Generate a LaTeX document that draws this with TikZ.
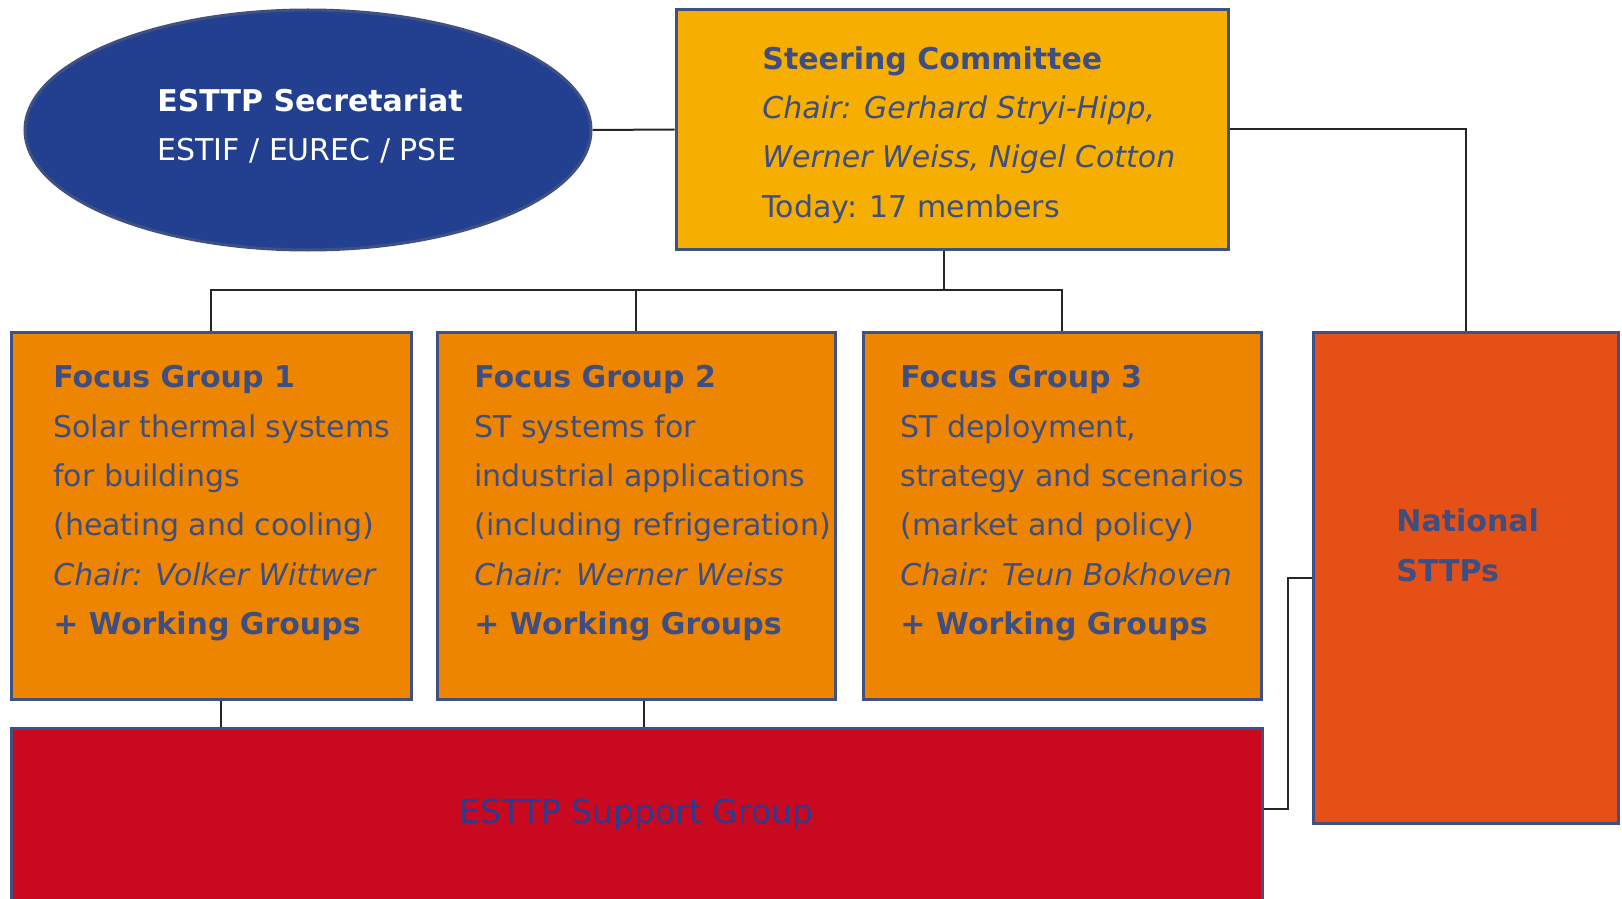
\documentclass[tikz,border=0pt]{standalone}
\usepackage{fontspec}
\setmainfont{DejaVu Sans}
\usepackage{tikz}
\usetikzlibrary{shapes.geometric, positioning}
\definecolor{secblue}{HTML}{22408F}
\definecolor{scamber}{HTML}{F6AE00}
\definecolor{fgorange}{HTML}{EE8500}
\definecolor{natorange}{HTML}{E55016}
\definecolor{sgred}{HTML}{C9091F}
\definecolor{edgeblue}{HTML}{3F5183}
\definecolor{txtblue}{HTML}{3E4E80}
\definecolor{sgtext}{HTML}{2C3B90}
\tikzset{
  box/.style={draw=edgeblue, line width=1.5pt, inner sep=0pt},
  txt/.style={text=txtblue, align=left, inner sep=0pt, anchor=north west, font=\fontsize{15}{24.7}\selectfont},
  link/.style={draw=black!85, line width=1pt},
}

\begin{document}
\begin{tikzpicture}[x=0.5pt, y=-0.5pt]
		\useasboundingbox (0,0) rectangle (1622,899);
		\node[ellipse, box, fill=secblue, minimum width=283pt, minimum height=120pt] (sec) at (308,130) {};
		\node[box, fill=scamber, minimum width=276pt, minimum height=119.5pt] (sc) at (952,129.5) {};
		\node[box, fill=fgorange, minimum width=200pt, minimum height=183.5pt] (fg1) at (211,515.5) {};
		\node[box, fill=fgorange, minimum width=199pt, minimum height=183.5pt] (fg2) at (636,515.5) {};
		\node[box, fill=fgorange, minimum width=199pt, minimum height=183.5pt] (fg3) at (1062,515.5) {};
		\node[box, fill=natorange, minimum width=152.5pt, minimum height=245.5pt] (nat) at (1465.5,577.5) {};
		\node[box, fill=sgred, minimum width=625.5pt, minimum height=87pt, text=sgtext, font=\fontsize{16.5}{20}\selectfont] (sg) at (636.5,815) {ESTTP Support Group};

		\node[txt, text=white] (sectext) at (157,88) {\textbf{ESTTP Secretariat}\\ESTIF / EUREC / PSE};
		\node[txt] (sctext) at (762,46) {\textbf{Steering Committee}\\\textit{Chair: Gerhard Stryi-Hipp,}\\\textit{Werner Weiss, Nigel Cotton}\\Today: 17 members};
		\node[txt] (fg1text) at (53,365) {\textbf{Focus Group 1}\\Solar thermal systems\\for buildings\\(heating and cooling)\\\textit{Chair: Volker Wittwer}\\\textbf{+ Working Groups}};
		\node[txt] (fg2text) at (474,365) {\textbf{Focus Group 2}\\ST systems for\\industrial applications\\(including refrigeration)\\\textit{Chair: Werner Weiss}\\\textbf{+ Working Groups}};
		\node[txt] (fg3text) at (900,365) {\textbf{Focus Group 3}\\ST deployment,\\strategy and scenarios\\(market and policy)\\\textit{Chair: Teun Bokhoven}\\\textbf{+ Working Groups}};
		\node[txt, font=\bfseries\fontsize{15}{25}\selectfont] (nattext) at (1396,508) {National\\STTPs};

		\coordinate (bus) at (944,290);
		\draw[link] (sec.east) -- (sc.west);
		\draw[link, line width=1.4pt] (sc.south -| bus) -- (bus);
		\draw[link] (fg1.north) |- (bus) -| (fg3.north);
		\draw[link] (fg2.north) -- (fg2.north |- bus);
		\draw[link] (sc.east) -| (nat.north);
		\draw[link] ([xshift=5pt]fg1.south) -- ([xshift=5pt]fg1.south |- sg.north);
		\draw[link] ([xshift=4pt]fg2.south) -- ([xshift=4pt]fg2.south |- sg.north);
		\draw[link] ([yshift=3pt]sg.east) -- ++(24,0) |- (nat.west);
\end{tikzpicture}
\end{document}
